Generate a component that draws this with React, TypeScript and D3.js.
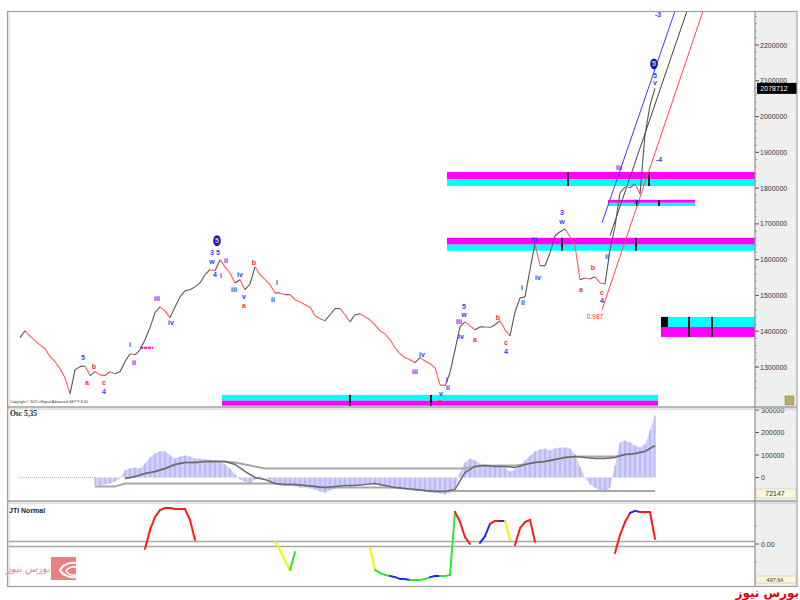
import React from "react";
import * as d3 from "d3";

// price closes, one every bar (bar 0 = first visible bar)
const closes = [
  1382000, 1401000, 1387000, 1373000, 1362000, 1351000, 1329000, 1315000, 1295000, 1270000,
  1225000, 1292000, 1301000, 1303000, 1276000, 1287000, 1278000, 1276000, 1287000, 1281000,
  1287000, 1315000, 1337000, 1334000, 1348000, 1376000, 1410000, 1452000, 1468000, 1457000,
  1438000, 1468000, 1496000, 1513000, 1516000, 1524000, 1535000, 1558000, 1572000, 1569000,
  1600000, 1580000, 1563000, 1535000, 1544000, 1516000, 1532000, 1580000, 1558000, 1544000,
  1530000, 1507000, 1507000, 1502000, 1502000, 1488000, 1482000, 1474000, 1468000, 1443000,
  1435000, 1429000, 1446000, 1463000, 1463000, 1446000, 1426000, 1446000, 1449000, 1440000,
  1432000, 1418000, 1401000, 1393000, 1376000, 1354000, 1337000, 1326000, 1320000, 1312000,
  1326000, 1317000, 1309000, 1298000, 1250000, 1248000, 1284000, 1348000, 1412000, 1426000,
  1415000, 1404000, 1412000, 1412000, 1410000, 1418000, 1429000, 1404000, 1387000, 1454000,
  1493000, 1496000, 1572000, 1644000, 1583000, 1583000, 1619000, 1667000, 1678000, 1686000,
  1664000, 1639000, 1544000, 1549000, 1546000, 1552000, 1535000, 1532000, 1627000, 1692000,
  1787000, 1803000, 1801000, 1812000, 1784000, 1949000, 2032000, 2078712,
];
const lastBar = 147;
const priceTickLabels = ["1300000", "1400000", "1500000", "1600000", "1700000", "1800000", "1900000", "2000000", "2100000", "2200000"];
const lastPriceLabel = "2078712";

// Osc 5,35 histogram, starts at bar 15
const oscStart = 15;
const oscHist = [
  -36000, -36000, -31000, -27000, -18000, -4000, 31000, 40000, 44000, 40000,
  62000, 89000, 107000, 116000, 116000, 98000, 84000, 93000, 98000, 93000,
  84000, 84000, 80000, 80000, 76000, 71000, 58000, 40000, 13000, -9000,
  -18000, -27000, -9000, 4000, 0, -18000, -31000, -36000, -36000, -36000,
  -40000, -44000, -44000, -49000, -53000, -62000, -67000, -58000, -49000, -36000,
  -36000, -40000, -40000, -31000, -27000, -27000, -31000, -36000, -44000, -49000,
  -49000, -44000, -49000, -53000, -58000, -58000, -62000, -67000, -67000, -71000,
  -76000, -67000, -49000, 22000, 67000, 84000, 76000, 62000, 58000, 53000,
  53000, 49000, 44000, 27000, 36000, 58000, 76000, 98000, 116000, 124000,
  129000, 120000, 129000, 133000, 133000, 129000, 102000, 49000, 0, -31000,
  -44000, -58000, -67000, -44000, 53000, 156000, 164000, 156000, 142000, 133000,
  147000, 209000, 276000,
];
// signal and its bands, every 2nd bar from bar 15
const bandStart = 15;
const bandStep = 2;
const signal = [
  null, null, null, -4000, 4000, 18000, 27000, 40000, 58000, 67000,
  67000, 71000, 71000, 71000, 58000, 27000, 0, -9000, -27000, -31000,
  -31000, -36000, -40000, -44000, -40000, -36000, -36000, -31000, -27000, -36000,
  -44000, -49000, -53000, -58000, -62000, -62000, -53000, 22000, 49000, 53000,
  49000, 49000, 44000, 58000, 67000, 71000, 80000, 89000, 93000, 89000,
  84000, 84000, 89000, 102000, 107000, 116000, 142000,
];
const upperBand = [
  null, null, null, -4000, 4000, 18000, 27000, 40000, 58000, 67000,
  67000, 71000, 71000, 71000, 67000, 58000, 49000, 40000, 40000, 40000,
  40000, 40000, 40000, 40000, 40000, 40000, 40000, 40000, 40000, 40000,
  40000, 40000, 40000, 40000, 40000, 40000, 40000, 40000, 49000, 53000,
  53000, 53000, 53000, 58000, 67000, 71000, 80000, 89000, 93000, 93000,
  93000, 93000, 93000, 102000, 107000, 116000, 142000,
];
const lowerBand = [
  -40000, -40000, -40000, -27000, -27000, -27000, -27000, -27000, -27000, -27000,
  -27000, -27000, -27000, -27000, -27000, -27000, -27000, -27000, -27000, -31000,
  -31000, -36000, -40000, -44000, -44000, -44000, -44000, -44000, -44000, -44000,
  -44000, -49000, -53000, -58000, -60000, -60000, -60000, -60000, -60000, -60000,
  -60000, -60000, -60000, -60000, -60000, -60000, -60000, -60000, -60000, -60000,
  -60000, -60000, -60000, -60000, -60000, -60000, -60000,
];
const oscTickLabels = ["0", "100000", "200000", "300000"];
const oscLastLabel = "72147";

// JTI Normal segments: first bar, values, colour code per point
const jtiStarts = [25, 51, 70, 92, 99, 119];
const jtiValues = [
  [-14, 39, 75, 94, 100, 100, 97, 97, 97, 67, 11],
  [6, -17, -47, -72, -22],
  [-11, -72, -81, -86, -89, -92, -97, -97, -100, -100, -100, -97, -92, -89, -89, -89, -86, 89, 61, 19, 0],
  [3, 22, 56, 64, 64, 64, 11],
  [-3, 44, 61, 67, 6],
  [-25, 25, 61, 86, 92, 89, 89, 89, 14],
];
const jtiCodes = ["RRRRRRRRRRR", "YYYYG", "YYGGGBBBBGGGGBBGGGRRR", "BBBRRBY", "RRRRR", "RRRRBBRRR"];
const jtiLastLabel = "497.64";

// supply / demand zones
const zoneFrom = [40.4, 85.4, 117.6, 85.4, 128.2];
const zoneTo = [127.6, 147, 135, 147, 147];
const zoneHigh = [1222000, 1845000, 1767000, 1661000, 1440000];
const zoneMid = [1206000, 1825000, 1759000, 1642000, 1412000];
const zoneLow = [1192000, 1806000, 1750000, 1625000, 1384000];
const zoneTopCyan = [true, false, false, false, true];
const zoneTicks = [[66, 82.2], [109.6, 125.8], [123.4, 127.8], [108.4, 123.2], [133.8, 138.4]];

// trend channel
const channelA = [[116.4, 1703000], [118, 1667000], [116.4, 1460000]];
const channelB = [[131, 2295000], [133.4, 2295000], [136.6, 2295000]];

// wave labels: bar, price, text, colour
const waveBars = [12.6, 13.4, 14.8, 16.8, 16.8, 22, 22.8, 27.4, 30.2, 38.4, 39.6, 38.4, 39, 40.2, 41.2, 42.8, 44, 44.8, 44.8, 46.8, 51.4, 50.6, 79, 80.4, 84.2, 84, 85.4, 85.6, 87.8, 88.8, 88.8, 88.2, 91, 95.6, 97.2, 97.2, 100.4, 100.6, 102.8, 103.6, 108.4, 108.4, 112.2, 114.6, 116.4, 116.4, 117.4, 119.8, 123.4, 127, 127, 127.6, 127.8, 115];
const wavePrices = [1326000, 1256000, 1301000, 1256000, 1231000, 1362000, 1312000, 1491000, 1424000, 1619000, 1619000, 1594000, 1558000, 1555000, 1599000, 1516000, 1558000, 1496000, 1471000, 1591000, 1535000, 1488000, 1287000, 1334000, 1225000, 1203000, 1264000, 1242000, 1426000, 1468000, 1446000, 1384000, 1376000, 1438000, 1368000, 1343000, 1521000, 1479000, 1655000, 1549000, 1731000, 1706000, 1516000, 1577000, 1507000, 1485000, 1608000, 1859000, 1762000, 2116000, 2094000, 2284000, 1879000, 1440000];
const waveTexts = ["5", "a", "b", "c", "4", "i", "ii", "iii", "iv", "3", "5", "w", "4", "i", "ii", "iii", "iv", "v", "a", "b", "i", "ii", "iii", "iv", "v", "c", "i", "ii", "iii", "5", "w", "iv", "a", "b", "c", "4", "i", "ii", "iii", "iv", "3", "w", "a", "b", "c", "4", "ii", "iii", "iv", "5", "v", "-3", "-4", "0.987"];
const waveRed = ["a", "b", "c", "0.987"];
const circleBars = [39.4, 126.8];
const circlePrices = [1653000, 2147000];

const W = 800;
const H = 600;
const L = 8;
const R = 755;
const AX = 797;
const mainTop = 12;
const mainBottom = 407;
const oscBottom = 501;
const jtiBottom = 586;

const x = d3.scaleLinear().domain([0, lastBar]).range([20, R]);
const y = d3.scaleLinear().domain([1300000, 2200000]).range([367, 45]);
const yOsc = d3.scaleLinear().domain([0, 300000]).range([477.5, 410]);
const yJti = d3.scaleLinear().domain([-100, 100]).range([580, 508]);

const BLUE = "#3a3aff";
const RED = "#ff3030";
const CYAN = "#00ffff";
const MAGENTA = "#ff00ff";
const jtiColor: Record<string, string> = { R: "#ff1a1a", Y: "#f5f500", G: "#2ee82e", B: "#1a2cff" };
const axisFont = "Liberation Sans Narrow, Liberation Sans, Arial, sans-serif";

function PriceLine() {
  const segs = [];
  for (let i = 1; i < closes.length; i++) {
    const down = closes[i] < closes[i - 1];
    segs.push(
      <line key={i} x1={x(i - 1)} y1={y(closes[i - 1])} x2={x(i)} y2={y(closes[i])}
        stroke={down ? "#ff5a5a" : "#555"} strokeWidth={1.1} />
    );
  }
  return <g>{segs}</g>;
}

function Zones() {
  return (
    <g>
      {zoneFrom.map((f, k) => {
        const x0 = x(f);
        const x1 = x(zoneTo[k]);
        const top = zoneTopCyan[k] ? CYAN : MAGENTA;
        const bot = zoneTopCyan[k] ? MAGENTA : CYAN;
        return (
          <g key={k}>
            <rect x={x0} y={y(zoneHigh[k])} width={x1 - x0} height={y(zoneMid[k]) - y(zoneHigh[k])} fill={top} />
            <rect x={x0} y={y(zoneMid[k])} width={x1 - x0} height={y(zoneLow[k]) - y(zoneMid[k])} fill={bot} />
            {zoneTicks[k].map((t, j) => (
              <rect key={j} x={x(t) - 1} y={y(zoneHigh[k])} width={2} height={y(zoneLow[k]) - y(zoneHigh[k])} fill="#111" />
            ))}
            {k === 4 && <rect x={x0} y={y(zoneHigh[k])} width={7} height={y(zoneMid[k]) - y(zoneHigh[k])} fill="#000" />}
          </g>
        );
      })}
      <line x1={x(24)} x2={x(26.6)} y1={y(1354000)} y2={y(1354000)} stroke={MAGENTA} strokeWidth={2} strokeDasharray="3,1" />
    </g>
  );
}

function Channel() {
  const cols = [BLUE, "#444", "#ff4a4a"];
  return (
    <g>
      {channelA.map((a, k) => (
        <line key={k} x1={x(a[0])} y1={y(a[1])} x2={x(channelB[k][0])} y2={y(channelB[k][1])} stroke={cols[k]} strokeWidth={1} />
      ))}
    </g>
  );
}

function Waves() {
  return (
    <g fontFamily={axisFont} fontSize={7} fontWeight="bold" textAnchor="middle">
      {waveTexts.map((t, k) => (
        <text key={k} x={x(waveBars[k])} y={y(wavePrices[k]) + 2.5} fill={waveRed.includes(t) ? RED : BLUE}
          fontWeight={t === "0.987" ? "normal" : "bold"} fontSize={t === "0.987" ? 6.5 : 7}>{t}</text>
      ))}
      {circleBars.map((b, k) => (
        <g key={"c" + k}>
          <ellipse cx={x(b)} cy={y(circlePrices[k])} rx={3.8} ry={5.5} fill="#1818b0" />
          <text x={x(b)} y={y(circlePrices[k]) + 2.5} fill="#ccd" fontSize={7}>5</text>
        </g>
      ))}
    </g>
  );
}

function Osc() {
  const pts = oscHist.map((v, k) => [oscStart + k, v] as [number, number]);
  const area = d3.area<[number, number]>().x((d) => x(d[0])).y0(yOsc(0)).y1((d) => yOsc(d[1]));
  const bandLine = d3.line<[number, number | null]>()
    .defined((d) => d[1] !== null)
    .x((d) => x(d[0]))
    .y((d) => yOsc(d[1] as number));
  const mk = (arr: (number | null)[]) => arr.map((v, k) => [bandStart + k * bandStep, v] as [number, number | null]);
  return (
    <g>
      <line x1={x(0)} x2={x(oscStart)} y1={yOsc(0)} y2={yOsc(0)} stroke="#b0b0f0" strokeDasharray="1,1" />
      <path d={area(pts) || ""} fill="#d0d0fb" />
      {pts.map((d, k) => (
        <line key={k} x1={x(d[0])} x2={x(d[0])} y1={yOsc(0)} y2={yOsc(d[1])} stroke="#a4a4f4" strokeWidth={1} />
      ))}
      <path d={bandLine(mk(upperBand)) || ""} fill="none" stroke="#a8a8a8" strokeWidth={2} />
      <path d={bandLine(mk(lowerBand)) || ""} fill="none" stroke="#a8a8a8" strokeWidth={2} />
      <path d={bandLine(mk(signal)) || ""} fill="none" stroke="#6a6a6a" strokeWidth={1.5} />
    </g>
  );
}

function Jti() {
  const segs = [];
  jtiValues.forEach((vals, s) => {
    for (let k = 1; k < vals.length; k++) {
      segs.push(
        <line key={s + "-" + k} x1={x(jtiStarts[s] + k - 1)} y1={yJti(vals[k - 1])} x2={x(jtiStarts[s] + k)} y2={yJti(vals[k])}
          stroke={jtiColor[jtiCodes[s][k]]} strokeWidth={2} strokeLinecap="round" />
      );
    }
  });
  return <g>{segs}</g>;
}

function Axes() {
  const pTicks = priceTickLabels.map((t) => +t);
  const minor = d3.range(1240000, 2280001, 20000);
  const oTicks = oscTickLabels.map((t) => +t);
  return (
    <g fontFamily={axisFont} fontSize={7} fill="#333">
      <rect x={R} y={mainTop - 1} width={AX - R} height={jtiBottom - mainTop + 1} fill="#efefef" />
      {minor.filter((v) => y(v) > mainTop && y(v) < mainBottom).map((v) => (
        <line key={v} x1={R} x2={R + 2} y1={y(v)} y2={y(v)} stroke="#777" strokeWidth={0.6} />
      ))}
      {pTicks.map((v, k) => (
        <g key={v}>
          <line x1={R} x2={R + 4} y1={y(v)} y2={y(v)} stroke="#555" />
          <text x={R + 5} y={y(v) + 2.5}>{priceTickLabels[k]}</text>
        </g>
      ))}
      <rect x={R + 2} y={y(closes[closes.length - 1]) - 5.5} width={AX - R - 2} height={11} fill="#000" />
      <text x={R + 19} y={y(closes[closes.length - 1]) + 2.5} fill="#fff" textAnchor="middle">{lastPriceLabel}</text>
      {oTicks.map((v, k) => (
        <g key={v}>
          <line x1={R} x2={R + 4} y1={yOsc(v)} y2={yOsc(v)} stroke="#555" />
          <text x={R + 6} y={yOsc(v) + 2.5}>{oscTickLabels[k]}</text>
        </g>
      ))}
      <rect x={R + 1} y={oscBottom - 12} width={AX - R - 2} height={9} fill="#fbf8d8" stroke="#bbb" strokeWidth={0.5} />
      <text x={R + 20} y={oscBottom - 5} textAnchor="middle">{oscLastLabel}</text>
      <line x1={R} x2={R + 4} y1={yJti(0)} y2={yJti(0)} stroke="#555" />
      <text x={R + 6} y={yJti(0) + 2.5}>0.00</text>
      {[-50, 50].map((v) => (
        <line key={v} x1={R} x2={R + 2} y1={yJti(v)} y2={yJti(v)} stroke="#777" strokeWidth={0.6} />
      ))}
      <rect x={R + 1} y={jtiBottom - 10} width={AX - R - 2} height={7} fill="#fbf8d8" stroke="#bbb" strokeWidth={0.5} />
      <text x={R + 20} y={jtiBottom - 4.5} textAnchor="middle" fontSize={5.5}>{jtiLastLabel}</text>
      <rect x={R + 30} y={mainBottom - 11} width={9} height={9} fill="#b8b060" stroke="#777" strokeWidth={0.5} />
    </g>
  );
}

function Frames() {
  const hl = (yy: number, k: string) => (
    <g key={k}>
      <line x1={7} x2={AX} y1={yy} y2={yy} stroke="#a0a0a0" strokeWidth={1.5} />
      <line x1={7} x2={AX} y1={yy + 2} y2={yy + 2} stroke="#c8c8c8" strokeWidth={1} />
    </g>
  );
  return (
    <g>
      <rect x={7.5} y={11.5} width={AX - 7.5} height={jtiBottom - 11} fill="none" stroke="#a0a0a0" strokeWidth={1.2} />
      <line x1={9} x2={9} y1={12} y2={jtiBottom} stroke="#d0d0d0" />
      {hl(mainBottom, "a")}
      {hl(oscBottom, "b")}
      <line x1={R} x2={R} y1={11} y2={jtiBottom} stroke="#909090" strokeWidth={1.2} />
    </g>
  );
}

export default function App() {
  const jz = yJti(0);
  return (
    <svg width={W} height={H} style={{ position: "absolute", left: 0, top: 0, background: "#fff" }}>
      <defs>
        <clipPath id="mainClip"><rect x={L} y={mainTop} width={R - L} height={mainBottom - mainTop} /></clipPath>
      </defs>
      <rect x={0} y={0} width={W} height={H} fill="#fff" />
      <g clipPath="url(#mainClip)">
        <Zones />
        <Channel />
        <PriceLine />
        <Waves />
        <text x={10} y={403} fontSize={3.6} fontFamily={axisFont} fill="#333">Copyright © 2021 eSignal Advanced GET™ 8.00</text>
      </g>
      <Osc />
      <text x={10} y={416} fontSize={7.5} fontFamily="Liberation Serif, serif" fill="#222" fontWeight="bold">Osc 5,35</text>
      <line x1={L} x2={R} y1={jz - 2.5} y2={jz - 2.5} stroke="#a8a8a8" strokeWidth={1.5} />
      <line x1={L} x2={R} y1={jz + 2.5} y2={jz + 2.5} stroke="#a8a8a8" strokeWidth={1.5} />
      <Jti />
      <text x={9} y={513} fontSize={7} fontFamily={axisFont} fill="#222" fontWeight="bold">JTI Normal</text>
      <Axes />
      <Frames />
      <g>
        <rect x={51} y={557} width={25} height={23} fill="#ec8080" />
        <path d="M76,563 A14,10 0 0 0 60,570 A14,10 0 0 0 76,577" fill="none" stroke="#fff" strokeWidth={2} />
        <path d="M76,567 A9,6 0 0 0 66,571 A9,6 0 0 0 76,575" fill="none" stroke="#fff" strokeWidth={1.6} />
        <text x={50} y={572} fontSize={10} fontFamily="DejaVu Sans, sans-serif" fill="#ec8080" textAnchor="end" fontStyle="italic">بورس نیوز</text>
      </g>
      <text x={799} y={597} fontSize={12} fontWeight="bold" fontFamily="DejaVu Sans, sans-serif" fill="#e00000" textAnchor="end">بورس نیوز</text>
    </svg>
  );
}
